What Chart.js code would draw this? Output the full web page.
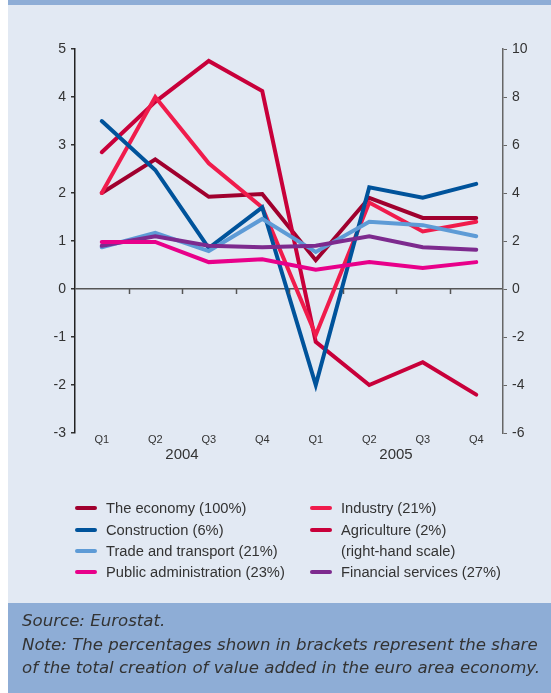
<!DOCTYPE html>
<html>
<head>
<meta charset="utf-8">
<script src="https://cdn.jsdelivr.net/npm/chart.js@4.4.1/dist/chart.umd.min.js"></script>
<style>
  html, body { margin: 0; padding: 0; background: #fff; }
  body { width: 551px; height: 693px; position: relative; overflow: hidden; font-family: "Liberation Sans", Arial, sans-serif; }
  #panel { position: absolute; left: 8px; top: 0; width: 543px; height: 693px; background: #e2e9f3; }
  #topband { position: absolute; left: 8px; top: 0; width: 543px; height: 5px; background: #8eadd6; }
  #chartbox { position: absolute; left: 0; top: 0; width: 551px; height: 470px; }
  #legend { position: absolute; left: 0; top: 0; width: 551px; height: 600px; pointer-events: none; }
  .item { position: absolute; font-size: 14.7px; color: #333; white-space: nowrap; line-height: 16px; }
  .swatch { position: absolute; width: 22px; height: 4px; border-radius: 2px; }
  #footer { position: absolute; left: 8px; top: 603px; width: 543px; height: 90px; background: #8eadd6; overflow: hidden; }
  #footer div { position: absolute; left: 14px; font-family: "DejaVu Sans", sans-serif; font-style: italic; font-size: 16.6px; line-height: 20px; color: #333; white-space: nowrap; }
</style>
</head>
<body>
<div id="panel"></div>
<div id="topband"></div>
<div id="chartbox"><canvas id="chart" width="551" height="470"></canvas></div>
<div id="legend"></div>
<div id="footer">
  <div style="top:8px">Source: Eurostat.</div>
  <div style="top:32px">Note: The percentages shown in brackets represent the share</div>
  <div style="top:55px">of the total creation of value added in the euro area economy.</div>
</div>
<script>
const quarters = ["Q1", "Q2", "Q3", "Q4", "Q1", "Q2", "Q3", "Q4"];
const years = ["2004", "2005"];

const economy = [2.0, 2.7, 1.92, 1.98, 0.6, 1.9, 1.48, 1.48];
const industry = [2.0, 4.0, 2.62, 1.7, -0.96, 1.8, 1.2, 1.4];
const construction = [3.5, 2.48, 0.85, 1.7, -2.0, 2.12, 1.9, 2.19];
const agriculture = [5.7, 7.8, 9.5, 8.25, -2.2, -4.0, -3.05, -4.4];   // right-hand scale
const tradeTransport = [0.87, 1.17, 0.79, 1.46, 0.77, 1.4, 1.33, 1.1];
const publicAdmin = [0.98, 0.98, 0.56, 0.62, 0.4, 0.56, 0.44, 0.56];
const financial = [0.9, 1.1, 0.9, 0.87, 0.9, 1.1, 0.87, 0.82];

const colors = {
  economy: "#a0002e",
  industry: "#f01c4c",
  construction: "#00539b",
  agriculture: "#c8003a",
  trade: "#5e9bd6",
  publicAdmin: "#e8008a",
  financial: "#7d2a8e"
};

const series = [
  { label: "Public administration (23%)", data: publicAdmin, color: colors.publicAdmin, axis: "y" },
  { label: "Financial services (27%)", data: financial, color: colors.financial, axis: "y" },
  { label: "Trade and transport (21%)", data: tradeTransport, color: colors.trade, axis: "y" },
  { label: "Construction (6%)", data: construction, color: colors.construction, axis: "y" },
  { label: "Industry (21%)", data: industry, color: colors.industry, axis: "y" },
  { label: "Agriculture (2%)", data: agriculture, color: colors.agriculture, axis: "y2" },
  { label: "The economy (100%)", data: economy, color: colors.economy, axis: "y" }
];

// legend layout (two columns, like the original)
const legendItems = [
  { text: "The economy (100%)", color: colors.economy, col: 0, row: 0 },
  { text: "Construction (6%)", color: colors.construction, col: 0, row: 1 },
  { text: "Trade and transport (21%)", color: colors.trade, col: 0, row: 2 },
  { text: "Public administration (23%)", color: colors.publicAdmin, col: 0, row: 3 },
  { text: "Industry (21%)", color: colors.industry, col: 1, row: 0 },
  { text: "Agriculture (2%)", color: colors.agriculture, col: 1, row: 1 },
  { text: "(right-hand scale)", color: null, col: 1, row: 2 },
  { text: "Financial services (27%)", color: colors.financial, col: 1, row: 3 }
];

function buildLegend() {
  const box = document.getElementById("legend");
  const colX = [75, 310];
  const rowY = [508, 529.5, 551, 572];
  legendItems.forEach(it => {
    if (it.color) {
      const sw = document.createElement("div");
      sw.className = "swatch";
      sw.style.left = colX[it.col] + "px";
      sw.style.top = (rowY[it.row] - 2) + "px";
      sw.style.background = it.color;
      box.appendChild(sw);
    }
    const t = document.createElement("div");
    t.className = "item";
    t.style.left = (colX[it.col] + 31) + "px";
    t.style.top = (rowY[it.row] - 8) + "px";
    t.textContent = it.text;
    box.appendChild(t);
  });
}
buildLegend();

// years under the quarter labels + small ticks on the zero line
const extras = {
  id: "extras",
  afterDraw(chart) {
    const ctx = chart.ctx;
    const x = chart.scales.x;
    const y = chart.scales.y;
    const y0 = y.getPixelForValue(0);
    const step = x.getPixelForValue(1) - x.getPixelForValue(0);
    ctx.save();
    ctx.strokeStyle = "#555";
    ctx.lineWidth = 1.5;
    for (let i = 0; i < quarters.length - 1; i++) {
      const px = Math.round(x.getPixelForValue(i) + step / 2) + 0.5;
      ctx.beginPath();
      ctx.moveTo(px, y0);
      ctx.lineTo(px, y0 + 5);
      ctx.stroke();
    }
    ctx.fillStyle = "#333";
    ctx.font = "15px 'Liberation Sans', Arial, sans-serif";
    ctx.textAlign = "center";
    ctx.textBaseline = "middle";
    years.forEach((yr, k) => {
      const px = (x.getPixelForValue(k * 4 + 1) + x.getPixelForValue(k * 4 + 2)) / 2;
      ctx.fillText(yr, px, 455);
    });
    ctx.restore();
  }
};

new Chart(document.getElementById("chart"), {
  type: "line",
  data: {
    labels: quarters,
    datasets: series.map(s => ({
      label: s.label,
      data: s.data,
      yAxisID: s.axis,
      borderColor: s.color,
      backgroundColor: s.color,
      borderWidth: 4,
      pointRadius: 0,
      tension: 0,
      borderJoinStyle: "miter",
      borderCapStyle: "round"
    }))
  },
  options: {
    responsive: false,
    animation: false,
    layout: { padding: { top: 49, left: 0, right: 0, bottom: 0 } },
    plugins: { legend: { display: false }, tooltip: { enabled: false } },
    scales: {
      x: {
        offset: true,
        grid: { display: false, drawTicks: false },
        border: { display: false },
        ticks: { color: "#333", font: { size: 11, family: "'Liberation Sans', Arial, sans-serif" }, padding: 0, maxRotation: 0 },
        afterFit(scale) { scale.height = 37; }
      },
      y: {
        position: "left",
        min: -3,
        max: 5,
        ticks: { stepSize: 1, color: "#333", font: { size: 14, family: "'Liberation Sans', Arial, sans-serif" }, padding: 5 },
        grid: {
          color: c => (c.tick && c.tick.value === 0 ? "#555" : "rgba(0,0,0,0)"),
          lineWidth: 1.5,
          tickColor: "#333",
          tickLength: 4
        },
        border: { color: "#222", width: 1.5 },
        afterFit(scale) { scale.width = 75; }
      },
      y2: {
        position: "right",
        min: -6,
        max: 10,
        ticks: { stepSize: 2, color: "#333", font: { size: 14, family: "'Liberation Sans', Arial, sans-serif" }, padding: 5 },
        grid: { drawOnChartArea: false, tickColor: "#666", tickLength: 4 },
        border: { color: "#666", width: 1.5 },
        afterFit(scale) { scale.width = 48; }
      }
    }
  },
  plugins: [extras]
});
</script>
</body>
</html>
